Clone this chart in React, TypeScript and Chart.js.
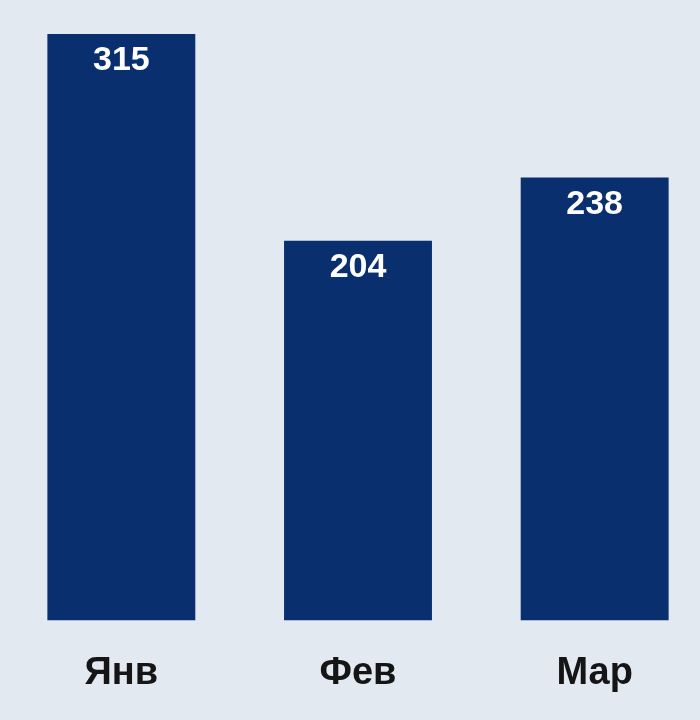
import React, { useEffect, useRef } from "react";
import { Chart, registerables } from "chart.js";

Chart.register(...registerables);

const categories = ["Янв", "Фев", "Мар"];
const values = [315, 204, 238];

const BG = "#e2e9f0";
const BAR = "#0a2f6e";
const FONT = "'Liberation Sans', Arial, sans-serif";

const valueLabels = {
  id: "valueLabels",
  afterDatasetsDraw(chart: any) {
    const ctx = chart.ctx;
    const meta = chart.getDatasetMeta(0);
    ctx.save();
    ctx.fillStyle = "#ffffff";
    ctx.font = `bold 34px ${FONT}`;
    ctx.textAlign = "center";
    ctx.textBaseline = "middle";
    meta.data.forEach((el: any, i: number) => {
      ctx.fillText(String(values[i]), el.x, el.y + 27);
    });
    ctx.restore();
  },
};

export default function App() {
  const ref = useRef<HTMLCanvasElement>(null);
  useEffect(() => {
    if (!ref.current) return;
    const chart = new Chart(ref.current, {
      type: "bar",
      data: {
        labels: categories,
        datasets: [
          {
            data: values,
            backgroundColor: BAR,
            barPercentage: 0.625,
            categoryPercentage: 1,
          },
        ],
      },
      options: {
        responsive: false,
        animation: false,
        layout: { padding: { left: 3, right: 0, top: 0, bottom: -6 } },
        plugins: { legend: { display: false }, tooltip: { enabled: false } },
        scales: {
          x: {
            grid: { display: false, drawTicks: false },
            border: { display: false },
            ticks: {
              padding: 30,
              color: "#151515",
              font: { family: FONT, size: 38, weight: "bold" },
            },
          },
          y: {
            display: false,
            min: 0,
            max: 333.3,
          },
        },
      },
      plugins: [valueLabels],
    });
    return () => chart.destroy();
  }, []);
  return (
    <div
      style={{
        position: "absolute",
        left: 0,
        top: 0,
        width: 700,
        height: 720,
        overflow: "hidden",
        background: BG,
      }}
    >
      <canvas ref={ref} width={713} height={720} style={{ display: "block" }} />
    </div>
  );
}
